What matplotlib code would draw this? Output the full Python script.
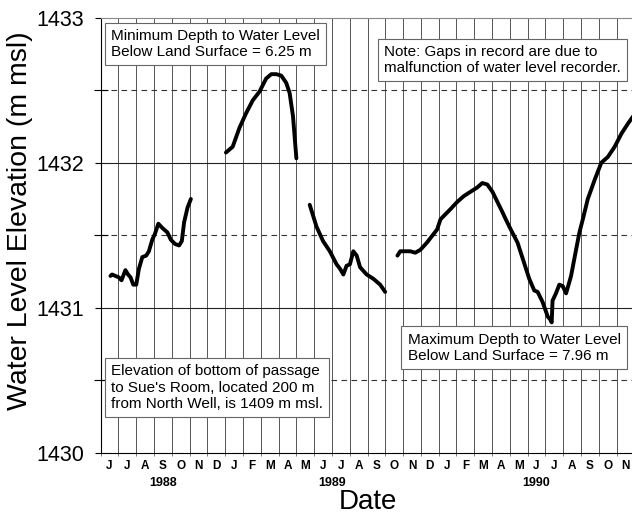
import numpy as np
import matplotlib
matplotlib.use("Agg")
import matplotlib.pyplot as plt

plt.rcParams['font.family'] = ['Liberation Sans', 'DejaVu Sans']

# x = months since 1 June 1988, y = water level elevation (m msl)
seg1_t = [0.55, 0.64, 0.83, 1.02, 1.17, 1.39, 1.54, 1.68, 1.83, 2.0, 2.15, 2.34, 2.56, 2.71,
          2.90, 3.05, 3.24, 3.47, 3.75, 3.94, 4.18, 4.41, 4.56, 4.69, 4.88, 5.07]
seg1_y = [1431.22, 1431.23, 1431.22, 1431.21, 1431.19, 1431.26, 1431.23, 1431.21, 1431.16,
          1431.16, 1431.27, 1431.35, 1431.36, 1431.39, 1431.47, 1431.51, 1431.58, 1431.55,
          1431.52, 1431.47, 1431.44, 1431.43, 1431.46, 1431.59, 1431.69, 1431.75]

seg2_t = [7.04, 7.42, 7.80, 8.17, 8.55, 8.93, 9.30, 9.59, 9.87, 10.15, 10.43, 10.62, 10.81, 11.0]
seg2_y = [1432.07, 1432.11, 1432.24, 1432.34, 1432.43, 1432.49, 1432.58, 1432.61, 1432.61,
          1432.60, 1432.55, 1432.48, 1432.32, 1432.03]

seg3_t = [11.75, 12.13, 12.5, 12.88, 13.26, 13.45, 13.64, 13.82, 14.01, 14.2, 14.39, 14.58,
          14.95, 15.33, 15.71, 15.99]
seg3_y = [1431.71, 1431.56, 1431.46, 1431.39, 1431.30, 1431.27, 1431.23, 1431.29, 1431.30,
          1431.39, 1431.36, 1431.28, 1431.23, 1431.20, 1431.16, 1431.11]

seg4_t = [16.68, 16.84, 17.12, 17.40, 17.68, 17.97, 18.34, 18.72, 18.91, 19.1, 19.66, 20.04,
          20.41, 20.79, 21.17, 21.45, 21.73, 22.02, 22.3, 22.58, 22.77, 23.05, 23.43, 23.8,
          24.09, 24.37, 24.56, 24.84, 25.13, 25.27, 25.35, 25.4, 25.59, 25.78, 25.97, 26.16,
          26.44, 26.72, 26.91, 27.1, 27.38, 27.76, 28.14, 28.51, 28.89, 29.27, 29.64, 29.93]
seg4_y = [1431.36, 1431.39, 1431.39, 1431.39, 1431.38, 1431.40, 1431.45, 1431.51, 1431.54,
          1431.61, 1431.68, 1431.73, 1431.77, 1431.80, 1431.83, 1431.86, 1431.85, 1431.80,
          1431.73, 1431.66, 1431.61, 1431.54, 1431.45, 1431.31, 1431.20, 1431.12, 1431.11,
          1431.04, 1430.94, 1430.92, 1430.90, 1431.05, 1431.10, 1431.16, 1431.15, 1431.10,
          1431.22, 1431.40, 1431.52, 1431.61, 1431.75, 1431.88, 1432.0, 1432.04, 1432.11,
          1432.20, 1432.27, 1432.32]

months = list("JJASOND") + list("JFMAMJJASOND") + list("JFMAMJJASON")
years = ["1988", "1989", "1990"]
year_pos = [3.5, 13.0, 24.5]

fig = plt.figure(figsize=(6.32, 5.16), dpi=100)
# axes runs a little past the right edge of the figure, like the original scan
ax = fig.add_axes([0.1593, 0.122, 0.8445, 0.844])

for t, y in [(seg1_t, seg1_y), (seg2_t, seg2_y), (seg3_t, seg3_y), (seg4_t, seg4_y)]:
    ax.plot(t, y, color='black', lw=2.8, solid_joinstyle='round', solid_capstyle='round', zorder=5)

ax.set_xlim(0, 30)
ax.set_ylim(1430, 1433)

# month grid
for m in range(1, 30):
    ax.axvline(m, color='#555555', lw=0.7, zorder=1)
for v in [1431, 1432]:
    ax.axhline(v, color='#222222', lw=0.8, zorder=1)
for v in [1430.5, 1431.5, 1432.5]:
    ax.axhline(v, color='#333333', lw=0.8, ls=(0, (5, 4)), zorder=1)

ax.set_yticks([1430, 1431, 1432, 1433])
ax.set_yticklabels(["1430", "1431", "1432", "1433"], fontsize=15.5)
ax.set_yticks([1430.5, 1431.5, 1432.5], minor=True)
ax.tick_params(axis='y', which='major', direction='out', length=4, width=0.8, pad=8)
ax.tick_params(axis='y', which='minor', direction='inout', length=10, width=0.8)

ax.set_xticks(range(0, 31))
ax.set_xticklabels([])
ax.tick_params(axis='x', which='major', direction='out', length=2, width=0.6, color='#666666')
ax.set_xticks(np.arange(30) + 0.5, minor=True)
ax.set_xticklabels(months, minor=True, fontsize=8.5, fontweight='heavy')
ax.tick_params(axis='x', which='minor', length=0, pad=5)

for yr, p in zip(years, year_pos):
    ax.text(p, -0.068, yr, transform=ax.get_xaxis_transform(), ha='center', va='center',
            fontsize=9, fontweight='heavy')

ax.set_xlabel("Date", fontsize=20, labelpad=12)
fig.text(20 / 632, 1 - 221 / 516, "Water Level Elevation (m msl)", fontsize=20.5,
         rotation=90, ha='center', va='center')

ax.spines['right'].set_visible(False)
ax.spines['top'].set_color('#888888')
ax.spines['left'].set_linewidth(0.8)
ax.spines['bottom'].set_linewidth(0.8)

box = dict(boxstyle='square,pad=0.4', facecolor='white', edgecolor='#666666', lw=0.8)
ax.text(0.6, 1432.92, "Minimum Depth to Water Level\nBelow Land Surface = 6.25 m",
        fontsize=11, ha='left', va='top', bbox=box, zorder=6, linespacing=1.2)
ax.text(15.95, 1432.81, "Note: Gaps in record are due to\nmalfunction of water level recorder.",
        fontsize=11, ha='left', va='top', bbox=box, zorder=6, linespacing=1.2)
ax.text(17.25, 1430.83, "Maximum Depth to Water Level\nBelow Land Surface = 7.96 m",
        fontsize=11, ha='left', va='top', bbox=box, zorder=6, linespacing=1.2)
ax.text(0.6, 1430.61, "Elevation of bottom of passage\nto Sue's Room, located 200 m\nfrom North Well, is 1409 m msl.",
        fontsize=11, ha='left', va='top', bbox=box, zorder=6, linespacing=1.22)

fig.savefig("out.png", dpi=100)
